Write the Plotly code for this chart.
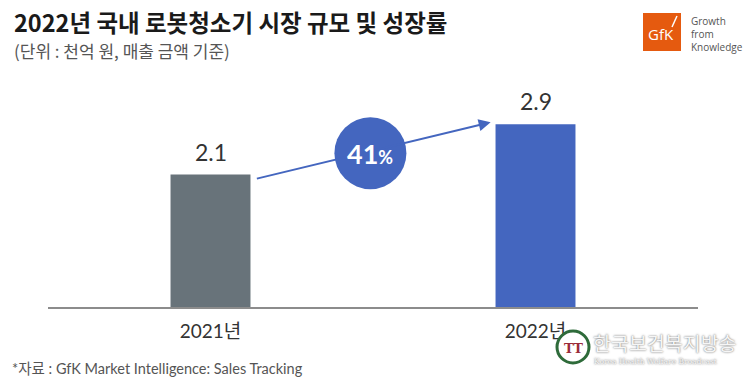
import plotly.graph_objects as go

categories = ["2021년", "2022년"]
values = [2.1, 2.9]
value_labels = ["2.1", "2.9"]
bar_colors = ["#68737a", "#4466bf"]
growth_label = "41%"

title = "2022년 국내 로봇청소기 시장 규모 및 성장률"
subtitle = "(단위 : 천억 원, 매출 금액 기준)"
source = "*자료 : GfK Market Intelligence: Sales Tracking"

W, H = 750, 386
L, R, T, B = 48, 52, 80, 79
PW, PH = W - L - R, H - T - B
YMAX = 3.6

def px(x):
    return (x - L) / PW

def py(y):
    return (H - B - y) / PH

KR = "Noto Sans CJK KR"
LAT = "Lato, Noto Sans CJK KR"

fig = go.Figure()
fig.add_trace(go.Bar(
    x=categories, y=values, width=0.246,
    marker=dict(color=bar_colors, line=dict(width=0)),
    hoverinfo="skip",
))
for c, v, t in zip(categories, values, value_labels):
    fig.add_annotation(x=c, y=v, xref="x", yref="y", showarrow=False, text=t,
                       yanchor="bottom", yshift=7,
                       font=dict(family=LAT, size=23, color="#333333"))

# growth arrow
fig.add_annotation(
    x=0.862, y=2.93, ax=0.138, ay=2.03,
    xref="x", yref="y", axref="x", ayref="y",
    showarrow=True, arrowhead=2, arrowsize=1.2, arrowwidth=2,
    arrowcolor="#4466bf", text="",
)
# circle
cx, cy = 0.492, 2.44
fig.add_shape(type="circle", xref="x", yref="y", xsizemode="pixel", ysizemode="pixel",
              xanchor=cx, yanchor=cy, x0=-36, x1=36, y0=-36, y1=36,
              fillcolor="#4466bf", line=dict(width=0))
fig.add_annotation(x=cx, y=cy, xref="x", yref="y", showarrow=False,
                   text="<b>41</b><b><span style='font-size:18px'>%</span></b>",
                   font=dict(family=LAT, size=27, color="white"))

# title & subtitle
fig.add_annotation(x=px(12), y=py(22), xref="paper", yref="paper", showarrow=False,
                   xanchor="left", yanchor="middle", text="<b>" + title + "</b>",
                   font=dict(family=KR, size=23.5, color="#1a1a1a"))
fig.add_annotation(x=px(12), y=py(50), xref="paper", yref="paper", showarrow=False,
                   xanchor="left", yanchor="middle", text=subtitle,
                   font=dict(family=KR, size=17, color="#555555"))

# source
fig.add_annotation(x=px(10), y=py(368), xref="paper", yref="paper", showarrow=False,
                   xanchor="left", yanchor="middle", text=source,
                   font=dict(family=LAT, size=14.5, color="#555555"))

# GfK logo
fig.add_shape(type="rect", xref="paper", yref="paper",
              x0=px(643), x1=px(681), y0=py(51), y1=py(13),
              fillcolor="#e55a0f", line=dict(width=0))
fig.add_shape(type="line", xref="paper", yref="paper",
              x0=px(672), x1=px(677), y0=py(27), y1=py(16),
              line=dict(color="white", width=1.5))
fig.add_annotation(x=px(661), y=py(34), xref="paper", yref="paper", showarrow=False,
                   xanchor="center", yanchor="middle",
                   text="GfK", font=dict(family="Open Sans", size=15, color="white"))
fig.add_annotation(x=px(689), y=py(34), xref="paper", yref="paper",
                   showarrow=False, xanchor="left", yanchor="middle", align="left",
                   text="Growth<br>from<br>Knowledge",
                   font=dict(family="Open Sans", size=10, color="#555555"))

# watermark
fig.add_shape(type="circle", xref="paper", yref="paper",
              x0=px(557), x1=px(589), y0=py(363), y1=py(331),
              fillcolor="white", line=dict(color="#2e6b3a", width=3))
fig.add_annotation(x=px(573), y=py(348), xref="paper", yref="paper", showarrow=False,
                   xanchor="center", yanchor="middle",
                   text="<b>TT</b>", font=dict(family="DejaVu Serif", size=13, color="#9b2b3a"))
fig.add_annotation(x=px(591), y=py(342), xref="paper", yref="paper", showarrow=False,
                   xanchor="left", yanchor="middle", text="한국보건복지방송",
                   font=dict(family=KR, size=19.5, color="#f6f6f6", shadow="0px 0px 2px #555"))
fig.add_annotation(x=px(592), y=py(361), xref="paper", yref="paper", showarrow=False,
                   xanchor="left", yanchor="middle", text="Korea Health Welfare Broadcast",
                   font=dict(family="DejaVu Serif", size=7.5, color="#f6f6f6", shadow="0px 0px 2px #555"))

fig.update_layout(
    width=W, height=H, margin=dict(l=L, r=R, t=T, b=B, autoexpand=False),
    paper_bgcolor="white", plot_bgcolor="white", showlegend=False,
    xaxis=dict(range=[-0.5, 1.5], showgrid=False, showline=True, linecolor="#8c8c8c",
               linewidth=1.5, ticks="", ticklabelstandoff=6,
               tickfont=dict(family=LAT, size=19, color="#333333"),
               fixedrange=True),
    yaxis=dict(range=[0, YMAX], visible=False, showgrid=False, fixedrange=True),
)

fig.write_html("out.html", config={"displayModeBar": False},
               post_script="document.body.style.margin='0';document.body.style.overflow='hidden';")
